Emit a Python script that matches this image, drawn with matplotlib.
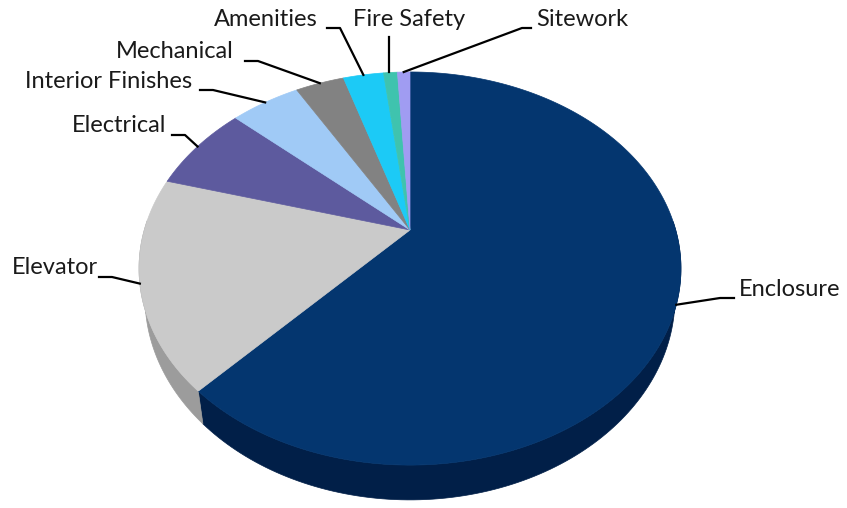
import matplotlib.pyplot as plt
import numpy as np

# ======= data (share of cost, %) =======
labels = ["Enclosure", "Elevator", "Electrical", "Interior Finishes",
          "Mechanical", "Amenities", "Fire Safety", "Sitework"]
values = [61.9, 17.4, 7.3, 5.0, 3.5, 2.9, 1.0, 0.9]
top_colors = ["#04366f", "#cacaca", "#5d5a9e", "#a0caf6",
              "#828282", "#1ccaf6", "#3fc3ae", "#a09cf2"]
side_colors = ["#011f48", "#9c9c9c", "#423f78", "#7fa3c8",
               "#5e5e5e", "#119cc0", "#2c9686", "#7b78c0"]

# label text (left x, centre y) and elbow point of the leader, in pixels
label_pos = {
    "Enclosure": (739, 290, 720, 298),
    "Elevator": (12, 268, 112, 277),
    "Electrical": (72, 126, 185, 135),
    "Interior Finishes": (25, 82, 213, 90),
    "Mechanical": (116, 51, 258, 61),
    "Amenities": (214, 20, 340, 28),
    "Fire Safety": (353, 20, 389, 37),
    "Sitework": (536, 20, 522, 28),
}

# ======= fake 3D projection =======
cx, cy = 410, 230      # where the slices meet
a, b = 265.7, 189.0    # radii
k = 0.196              # perspective
depth = 28.0
shrink = 0.022         # bottom rim a little narrower


def proj(theta, z=0.0):
    x, y = np.cos(theta), np.sin(theta)
    w = 1 + k * y
    return cx + a * x * (1 - shrink * z) / w, cy + (-b * y + depth * z) / w


fig = plt.figure(figsize=(8.47, 5.08), dpi=100)
ax = fig.add_axes([0, 0, 1, 1])
ax.set_xlim(0, 847)
ax.set_ylim(508, 0)
ax.axis("off")

fracs = np.array(values) / sum(values)
cum = np.concatenate([[0], np.cumsum(fracs)])
starts = np.radians(90 - 360 * cum[:-1])
ends = np.radians(90 - 360 * cum[1:])

# side walls first (front part only), top face covers the rest
for i in range(len(values)):
    t = np.linspace(starts[i], ends[i], 200)
    t = t[np.sin(t) < 0.05]
    if len(t) < 2:
        continue
    u0, v0 = proj(t, 0)
    u1, v1 = proj(t, 1)
    ax.fill(np.concatenate([u0, u1[::-1]]), np.concatenate([v0, v1[::-1]]),
            color=side_colors[i], lw=0.5)

# top face
for i in range(len(values)):
    t = np.linspace(starts[i], ends[i], 300)
    u, v = proj(t, 0)
    ax.fill(np.concatenate([[cx], u]), np.concatenate([[cy], v]),
            color=top_colors[i], ec=top_colors[i], lw=0.5)

# labels and leader lines
for i, name in enumerate(labels):
    tx, ty, ex, ey = label_pos[name]
    mid = (starts[i] + ends[i]) / 2
    px, py = proj(mid, 0)
    if name == "Fire Safety":
        ax.plot([ex, ex], [ey, py], color="black", lw=1.6)
    else:
        sx = tx - 5 if tx > ex else ex - 13
        ax.plot([sx, ex, px], [ey, ey, py], color="black", lw=1.6)
    ax.text(tx, ty, name, fontsize=17, family="Lato", color="#1a1a1a",
            va="center", ha="left")

fig.savefig("out.png", dpi=100)
